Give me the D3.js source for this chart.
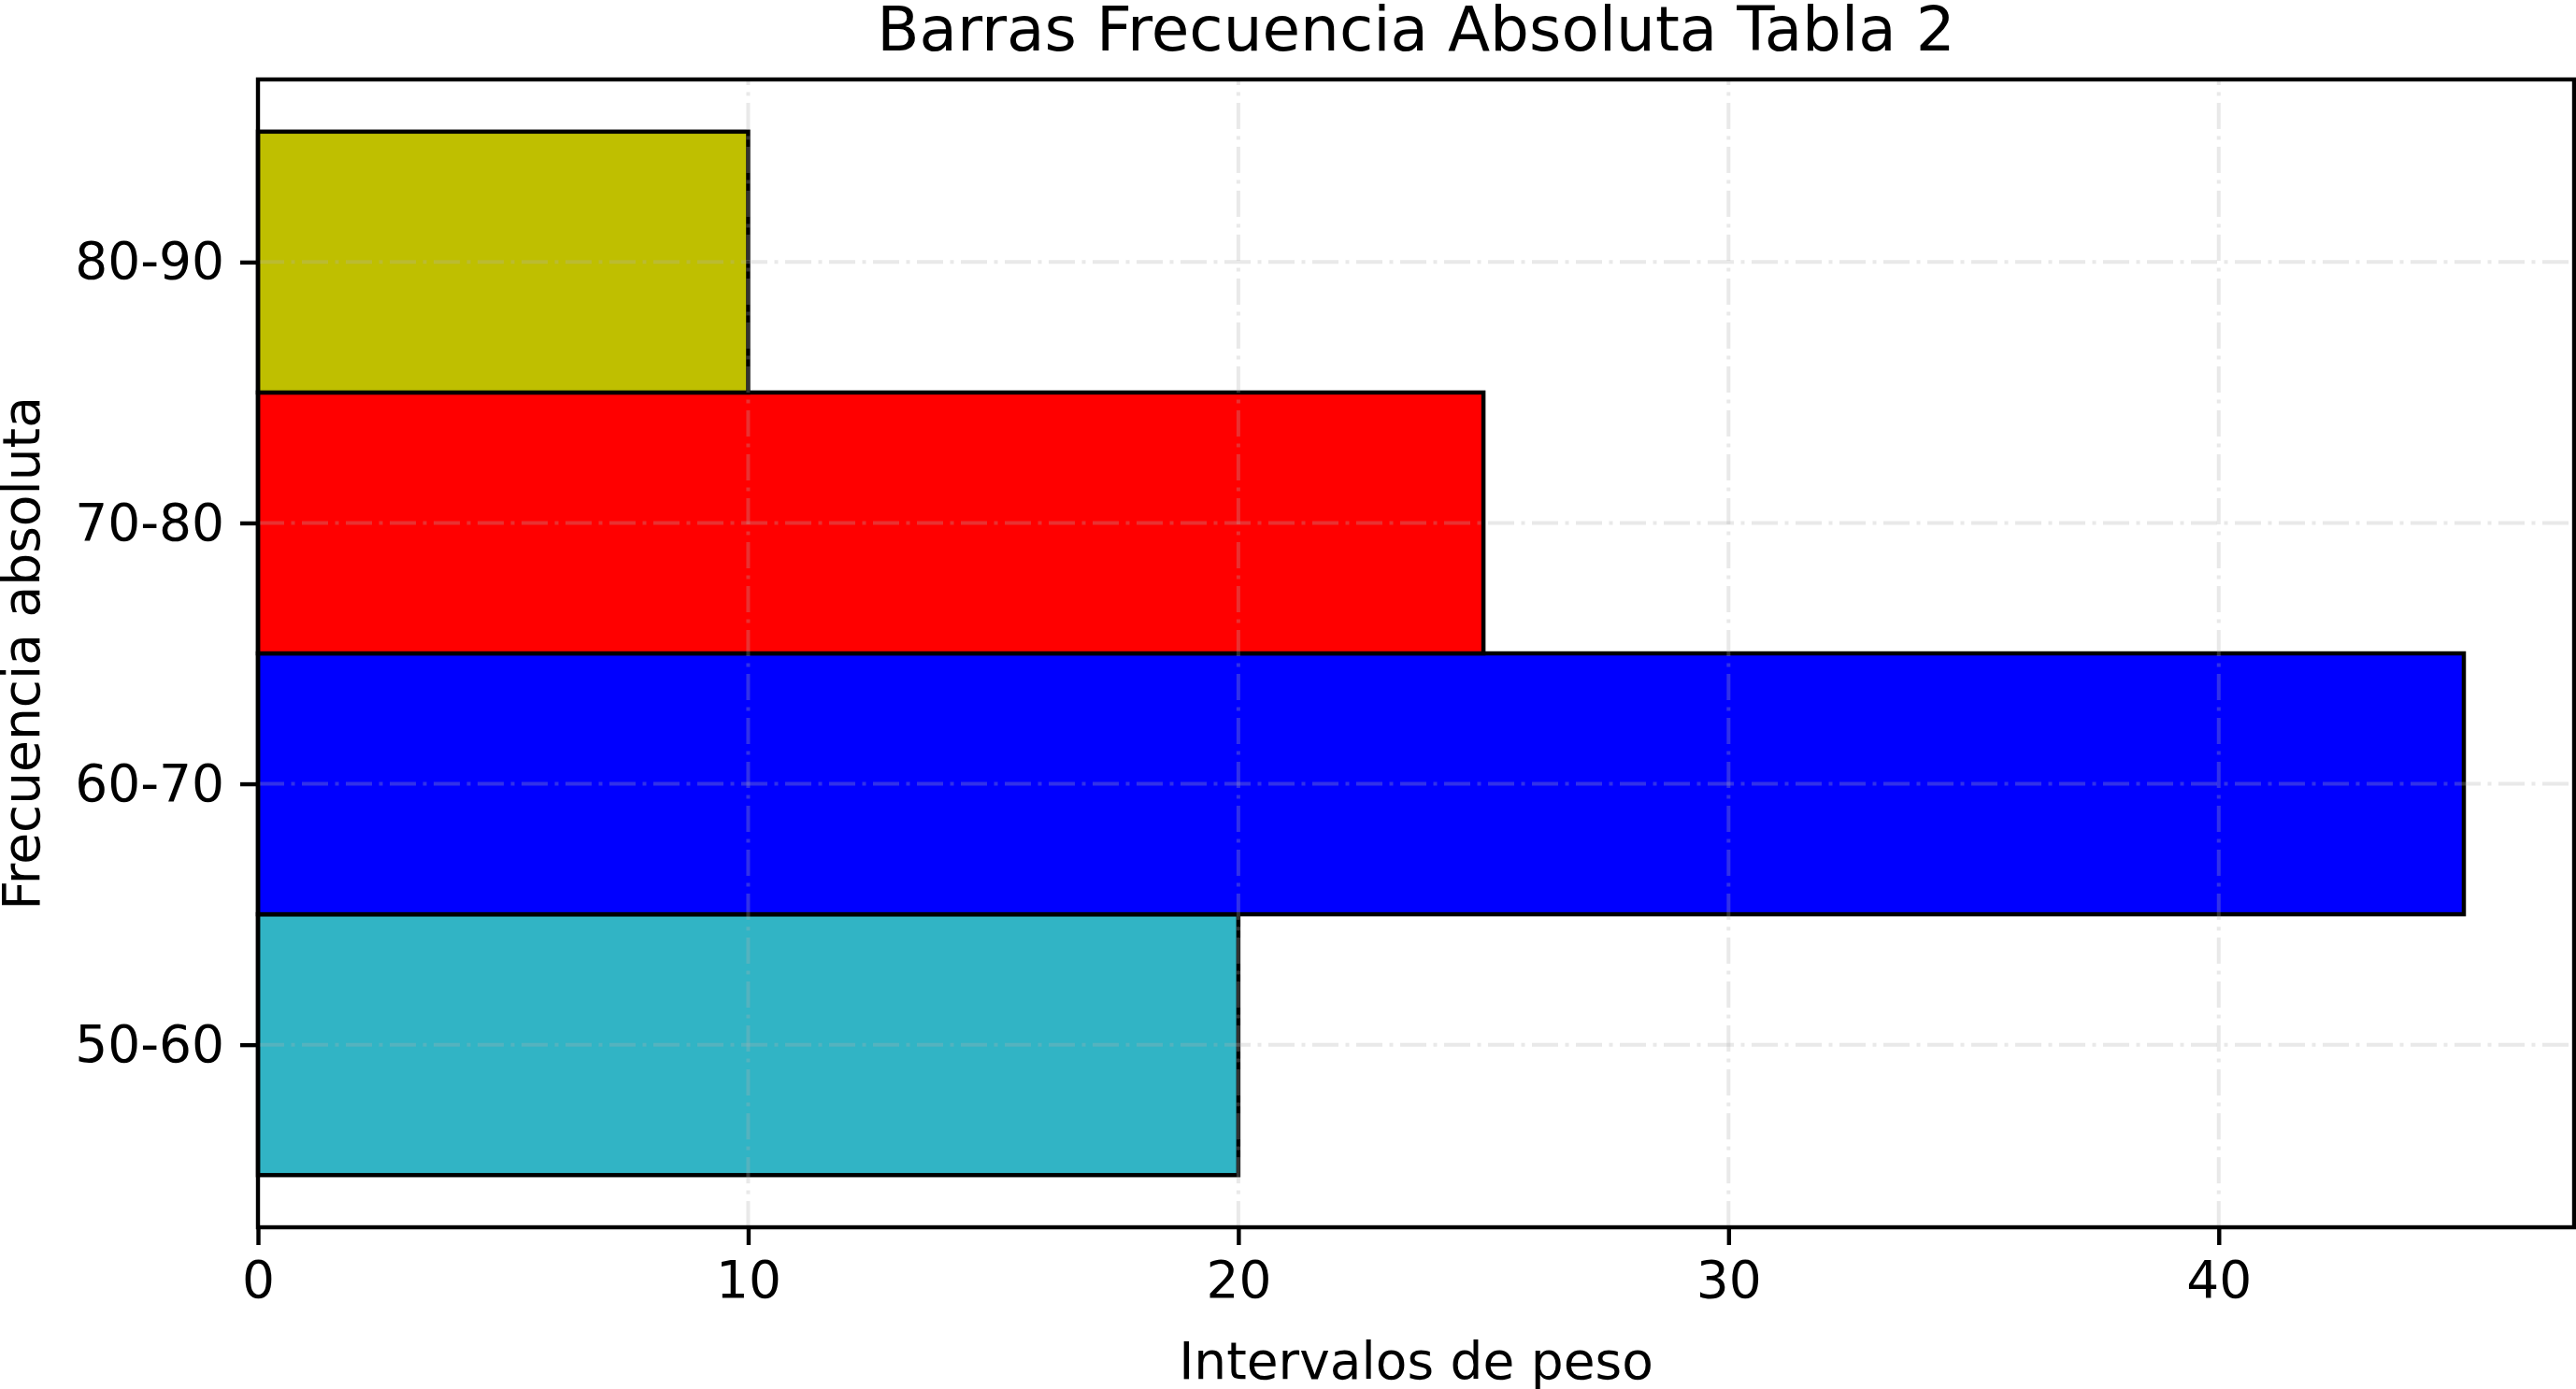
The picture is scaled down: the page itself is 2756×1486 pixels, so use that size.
<!DOCTYPE html>
<html>
<head>
<meta charset="utf-8">
<script src="https://cdn.jsdelivr.net/npm/d3@7"></script>
<style>
  html, body { margin: 0; padding: 0; background: #ffffff; }
  svg { display: block; font-family: "DejaVu Sans", sans-serif; }
</style>
</head>
<body>
<script>
const categories = ["50-60", "60-70", "70-80", "80-90"];
const values = [20, 45, 25, 10];
const barColors = ["#31b4c5", "#0000ff", "#ff0000", "#bfbf00"];
const xTicks = [0, 10, 20, 30, 40];
const title = "Barras Frecuencia Absoluta Tabla 2";
const xLabel = "Intervalos de peso";
const yLabel = "Frecuencia absoluta";

(function () {
const W = 2756, H = 1486;
const pLeft = 276, pRight = 2754, pTop = 85, pBottom = 1313;

const svg = d3.select("body").append("svg").attr("width", W).attr("height", H);

const x = d3.scaleLinear().domain([0, d3.max(values) * 1.05]).range([pLeft, pRight]);
const y = d3.scaleLinear().domain([-0.7, categories.length - 1 + 0.7]).range([pBottom, pTop]);

// bars
svg.append("g").selectAll("rect").data(values).join("rect")
  .attr("x", x(0))
  .attr("y", (d, i) => y(i + 0.5))
  .attr("width", d => x(d) - x(0))
  .attr("height", (d, i) => y(i - 0.5) - y(i + 0.5))
  .attr("fill", (d, i) => barColors[i])
  .attr("stroke", "#000")
  .attr("stroke-width", 4.5);

// grid (above bars)
const grid = svg.append("g").attr("stroke", "#b0b0b0").attr("stroke-opacity", 0.28)
  .attr("stroke-width", 4).attr("stroke-dasharray", "28,7.5,4,7.5").attr("fill", "none");
grid.selectAll("line.gx").data(xTicks).join("line").attr("class", "gx")
  .attr("x1", d => x(d)).attr("x2", d => x(d)).attr("y1", pBottom).attr("y2", pTop);
grid.selectAll("line.gy").data(categories).join("line").attr("class", "gy")
  .attr("y1", (d, i) => y(i)).attr("y2", (d, i) => y(i)).attr("x1", pLeft).attr("x2", pRight);

// axes
const fs = 55;
const xAxis = d3.axisBottom(x).tickValues(xTicks).tickFormat(d3.format("d")).tickSize(19).tickPadding(17);
const gx = svg.append("g").attr("transform", `translate(0,${pBottom})`).call(xAxis);
gx.select(".domain").remove();
gx.selectAll(".tick line").attr("stroke", "#000").attr("stroke-width", 4.4);
gx.selectAll(".tick text").attr("font-size", fs).attr("font-family", "DejaVu Sans").attr("fill", "#000");

const yAxis = d3.axisLeft(y).tickValues(d3.range(categories.length)).tickFormat(i => categories[i]).tickSize(19).tickPadding(17);
const gy = svg.append("g").attr("transform", `translate(${pLeft},0)`).call(yAxis);
gy.select(".domain").remove();
gy.selectAll(".tick line").attr("stroke", "#000").attr("stroke-width", 4.4);
gy.selectAll(".tick text").attr("font-size", fs).attr("font-family", "DejaVu Sans").attr("fill", "#000");

// frame
svg.append("rect").attr("x", pLeft).attr("y", pTop).attr("width", pRight - pLeft).attr("height", pBottom - pTop)
  .attr("fill", "none").attr("stroke", "#000").attr("stroke-width", 4.4);

// title and labels
svg.append("text").attr("x", (pLeft + pRight) / 2).attr("y", 54).attr("text-anchor", "middle")
  .attr("font-size", 66).attr("fill", "#000").text(title);
svg.append("text").attr("x", (pLeft + pRight) / 2).attr("y", 1475).attr("text-anchor", "middle")
  .attr("font-size", fs).attr("fill", "#000").text(xLabel);
svg.append("text").attr("transform", `translate(42,${(pTop + pBottom) / 2}) rotate(-90)`).attr("text-anchor", "middle")
  .attr("font-size", fs).attr("fill", "#000").text(yLabel);
})();
</script>
</body>
</html>
